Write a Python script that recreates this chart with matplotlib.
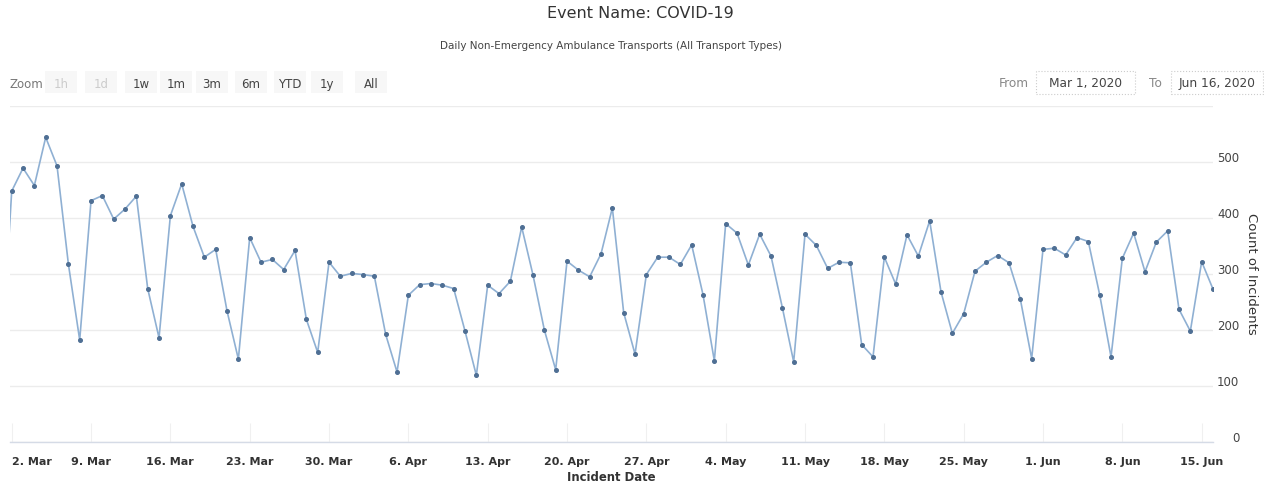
import datetime as dt
import matplotlib
matplotlib.use("Agg")
import matplotlib.pyplot as plt
import matplotlib.dates as mdates
import matplotlib.transforms as mtransforms
from matplotlib.patches import Rectangle
from matplotlib.ticker import FuncFormatter

# daily counts
mar = [110, 448, 489, 458, 544, 493, 318, 182, 431, 440, 398, 416, 439, 274, 186, 404,
       461, 385, 330, 344, 234, 148, 365, 321, 326, 308, 342, 219, 160, 321, 296]
apr = [301, 299, 296, 192, 125, 262, 281, 283, 280, 274, 198, 119, 280, 265, 287, 384,
       298, 200, 129, 323, 307, 295, 336, 418, 231, 157, 299, 330, 330, 317]
may = [352, 263, 145, 390, 373, 316, 371, 332, 240, 143, 371, 351, 310, 321, 320, 174,
       152, 330, 282, 370, 332, 395, 268, 194, 229, 305, 321, 333, 320, 255, 149]
jun = [344, 346, 334, 365, 358, 263, 152, 328, 373, 304, 357, 377, 237, 198, 322, 273]

counts = mar + apr + may + jun
start = dt.date(2020, 3, 1)
dates = [start + dt.timedelta(days=i) for i in range(len(counts))]
mondays = [d for d in dates if d.weekday() == 0]

y_ticks = [0, 100, 200, 300, 400, 500, 600]
zoom_buttons = ["1h", "1d", "1w", "1m", "3m", "6m", "YTD", "1y", "All"]
zoom_x = [61, 101, 141, 176, 212, 251, 290, 327, 371]

W, H = 1264, 485
fig = plt.figure(figsize=(W / 100, H / 100), dpi=100)
fig.patch.set_facecolor("white")

# plot area in pixels: left 10, right 1213, top 107, bottom 443
ax = fig.add_axes([10 / W, (H - 443) / H, (1213 - 10) / W, (443 - 107) / H])
ax.plot(dates, counts, color="#8fb0d3", lw=1.2, marker="o", ms=2.6,
        mfc="#4f6f94", mec="#4f6f94", zorder=3)

x0 = mdates.date2num(start)
ax.set_xlim(x0 + 0.85, x0 + 107)
ax.set_ylim(0, 600)

for s in ["top", "left", "right"]:
    ax.spines[s].set_visible(False)
ax.spines["bottom"].set_color("#d5dbe6")
ax.spines["bottom"].set_linewidth(1)

# y axis on the right, last label hidden (highstock style)
ax.set_yticks(y_ticks)
ax.yaxis.tick_right()
ax.grid(axis="y", color="#ececec", lw=1)
ax.set_axisbelow(True)
ax.tick_params(axis="y", length=0, pad=19, labelsize=8.5, labelcolor="#444")
ax.yaxis.set_major_formatter(FuncFormatter(lambda v, p: "" if v >= 600 else f"{int(v)}"))
shift = mtransforms.ScaledTranslation(0, 0.055, fig.dpi_scale_trans)
for lbl in ax.get_yticklabels():
    lbl.set_horizontalalignment("right")
    lbl.set_transform(lbl.get_transform() + shift)

# weekly ticks on mondays
ax.set_xticks(mondays)
ax.xaxis.set_major_formatter(FuncFormatter(
    lambda v, p: f"{mdates.num2date(v).day}. {mdates.num2date(v).strftime('%b')}"))
ax.tick_params(axis="x", direction="in", length=14, color="#f0f0f0", pad=10,
               labelsize=8, labelcolor="#333")
xlabels = ax.get_xticklabels()
for lbl in xlabels:
    lbl.set_fontweight("semibold")
xlabels[0].set_horizontalalignment("left")

ax.set_xlabel("Incident Date", fontsize=8.4, fontweight="bold", color="#333", labelpad=3)
fig.text(1251 / W, 1 - 274 / H, "Count of Incidents", rotation=270, fontsize=9.5,
         color="#333", ha="center", va="center")

# titles
fig.text(640 / W, 1 - 13 / H, "Event Name: COVID-19", fontsize=11.5, color="#333",
         ha="center", va="center")
fig.text(611 / W, 1 - 46 / H, "Daily Non-Emergency Ambulance Transports (All Transport Types)",
         fontsize=7.5, color="#444", ha="center", va="center")

# range selector
fig.text(9 / W, 1 - 83 / H, "Zoom", fontsize=8.5, color="#777", ha="left",
         va="center_baseline")
for lab, xb in zip(zoom_buttons, zoom_x):
    faded = lab in ("1h", "1d")
    fig.patches.append(Rectangle(((xb - 16) / W, 1 - 94 / H), 32 / W, 22 / H,
                                 transform=fig.transFigure, facecolor="#f7f7f7",
                                 edgecolor="none", zorder=0))
    fig.text(xb / W, 1 - 83 / H, lab, fontsize=8.5, color="#cccccc" if faded else "#444",
             ha="center", va="center_baseline")

fig.text(1014 / W, 1 - 82 / H, "From", fontsize=8.7, color="#888", ha="center",
         va="center_baseline")
fig.text(1155 / W, 1 - 82 / H, "To", fontsize=8.7, color="#888", ha="center",
         va="center_baseline")
for bx, bw, txt in [(1036, 99, "Mar 1, 2020"), (1171, 92, "Jun 16, 2020")]:
    fig.patches.append(Rectangle((bx / W, 1 - 95 / H), bw / W, 23 / H,
                                 transform=fig.transFigure, facecolor="none",
                                 edgecolor="#cccccc", lw=0.8, ls=":"))
    fig.text((bx + bw / 2) / W, 1 - 82 / H, txt, fontsize=8.7, color="#444",
             ha="center", va="center_baseline")

fig.savefig("out.png", dpi=100)
